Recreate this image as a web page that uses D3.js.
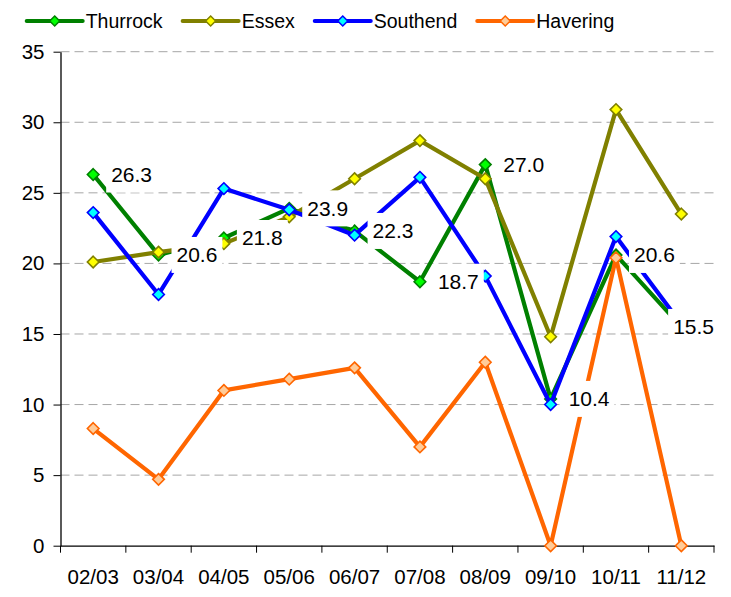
<!DOCTYPE html>
<html><head><meta charset="utf-8">
<script src="https://cdn.jsdelivr.net/npm/d3@7"></script>
<style>
body{margin:0;background:#fff}
text{font-family:"Liberation Sans",Arial,Helvetica,sans-serif;fill:#000}
</style></head>
<body><svg id="chart" width="731" height="597"></svg>
<script>
// ---- data ----
const categories = ["02/03","03/04","04/05","05/06","06/07","07/08","08/09","09/10","10/11","11/12"];
const thurrock = [26.3, 20.6, 21.8, 23.9, 22.3, 18.7, 27.0, 10.4, 20.6, 15.5];
const essex    = [20.1, 20.8, 21.4, 23.3, 26.0, 28.7, 26.0, 14.8, 30.9, 23.5];
const southend = [23.6, 17.8, 25.3, 23.8, 22.0, 26.1, 19.1, 10.0, 21.9, 15.7];
const havering = [8.3, 4.7, 11.0, 11.8, 12.6, 7.0, 13.0, 0, 20.4, 0];
const seriesNames = ["Thurrock","Essex","Southend","Havering"];
const yTicks = [0,5,10,15,20,25,30,35];

// ---- styles ----
const lineColors = ["#008000","#808000","#0000FF","#FF6600"];
const markerFills = ["#00FF00","#FFFF00","#00FFFF","#FFCC99"];
const seriesValues = [thurrock, essex, southend, havering];

const svg = d3.select("#chart");
const plot = {left:60.5, right:714, top:51.7, bottom:545.7};

const x = d3.scaleBand().domain(categories).range([plot.left, plot.right]).padding(0);
const y = d3.scaleLinear().domain([0,35]).range([plot.bottom, plot.top]);
const cx = c => x(c) + x.bandwidth()/2;

// gridlines
svg.append("g").selectAll("line").data(yTicks.filter(t => t > 0)).join("line")
  .attr("x1", plot.left).attr("x2", plot.right)
  .attr("y1", d => y(d)).attr("y2", d => y(d))
  .attr("stroke", "#a6a6a6").attr("stroke-width", 1).attr("stroke-dasharray", "9,5");

// y axis
const gy = svg.append("g").attr("transform", `translate(${plot.left},0)`)
  .call(d3.axisLeft(y).tickValues(yTicks).tickSize(7).tickSizeOuter(0).tickPadding(9).tickFormat(d3.format("d")));
gy.select(".domain").attr("stroke", "#000").attr("stroke-width", 1.3);
gy.selectAll(".tick line").attr("stroke", "#000");
gy.selectAll("text").attr("font-size", 20.5).attr("font-family", null);

// x axis
const gx = svg.append("g").attr("transform", `translate(0,${plot.bottom})`)
  .call(d3.axisBottom(x).tickSize(0).tickPadding(24));
gx.select(".domain").attr("stroke", "#000").attr("stroke-width", 1.3);
gx.selectAll("text").attr("font-size", 20.5).attr("font-family", null);
const edges = categories.map(c => x(c)).concat([x(categories[categories.length-1]) + x.bandwidth()]);
gx.append("g").selectAll("line").data(edges).join("line")
  .attr("x1", d => d).attr("x2", d => d).attr("y1", 0).attr("y2", 7)
  .attr("stroke", "#000");

const diamond = r => `M0,${-r}L${r},0L0,${r}L${-r},0Z`;

// series
seriesValues.forEach((vals, i) => {
  const pts = categories.map((c, j) => [cx(c), y(vals[j])]);
  const g = svg.append("g");
  g.append("path").attr("d", d3.line()(pts))
    .attr("fill", "none").attr("stroke", lineColors[i]).attr("stroke-width", 4.2)
    .attr("stroke-linejoin", "round");
  g.selectAll("path.m").data(pts).join("path").attr("class", "m")
    .attr("transform", d => `translate(${d[0]},${d[1]})`)
    .attr("d", diamond(5.8))
    .attr("fill", markerFills[i]).attr("stroke", lineColors[i]).attr("stroke-width", 1.6);
});

// data labels for Thurrock
const lab = svg.append("g");
categories.forEach((c, j) => {
  const g = lab.append("g");
  const rect = g.append("rect").attr("fill", "#fff");
  const t = g.append("text").attr("font-size", 21).attr("dy", "0.35em")
    .attr("y", y(thurrock[j])).text(thurrock[j].toFixed(1));
  const w = t.node().getComputedTextLength();
  let tx = cx(c) + 18;
  if (tx + w > 714) tx = 714 - w;
  t.attr("x", tx);
  rect.attr("x", tx - 5).attr("y", y(thurrock[j]) - 18).attr("width", w + 10).attr("height", 36);
});

// legend
const leg = svg.append("g");
let lx = 26.7;
const ly = 21;
seriesNames.forEach((name, i) => {
  const g = leg.append("g");
  g.append("line").attr("x1", lx).attr("x2", lx + 56).attr("y1", ly).attr("y2", ly)
    .attr("stroke", lineColors[i]).attr("stroke-width", 4).attr("stroke-linecap", "round");
  g.append("path").attr("transform", `translate(${lx + 28},${ly})`).attr("d", diamond(5))
    .attr("fill", markerFills[i]).attr("stroke", lineColors[i]).attr("stroke-width", 1.5);
  const t = g.append("text").attr("x", lx + 59).attr("y", ly).attr("dy", "0.35em")
    .attr("font-size", 19.5).text(name);
  lx += 59 + t.node().getComputedTextLength() + 20;
});
</script>
</body></html>
